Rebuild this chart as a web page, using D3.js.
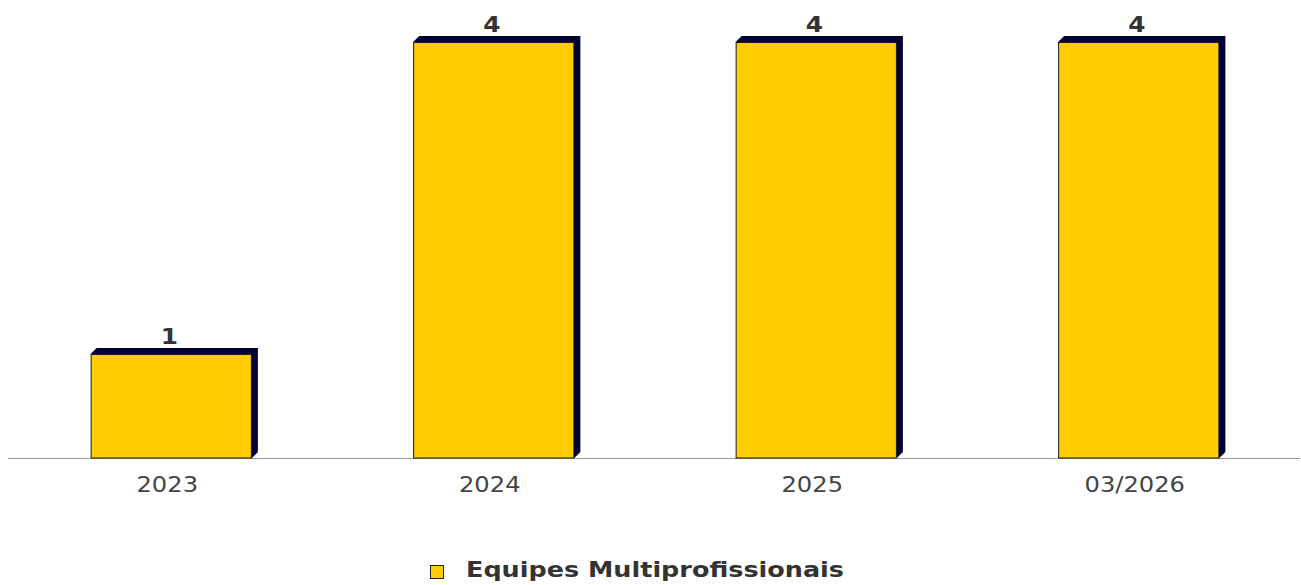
<!DOCTYPE html>
<html><head><meta charset="utf-8">
<script src="https://cdn.jsdelivr.net/npm/d3@7"></script>
<style>body{margin:0;background:#fff}svg{display:block}</style>
</head><body><svg id="c" width="1301" height="585"></svg>
<script>
const categories = ["2023", "2024", "2025", "03/2026"];
const values = [1, 4, 4, 4];
const seriesName = "Equipes Multiprofissionais";

const svg = d3.select("#c");
const base = 458, d = 6, sx = 1.18;
const x = d3.scaleBand().domain(categories).range([10, 1300]).paddingInner(0.5).paddingOuter(0.25);
const y = d3.scaleLinear().domain([0, 4]).range([base, 42]);

svg.append("line").attr("x1", 8).attr("x2", 1300).attr("y1", base + 0.5).attr("y2", base + 0.5)
  .attr("stroke", "#999").attr("stroke-width", 1);

function stext(parent, cx, cy, txt, size, weight, fill, anchor) {
  return parent.append("text").attr("transform", `translate(${cx},${cy}) scale(${sx},1)`)
    .attr("text-anchor", anchor || "middle").attr("font-family", "DejaVu Sans").attr("font-weight", weight)
    .attr("font-size", size).attr("fill", fill).text(txt);
}

const g = svg.append("g");
categories.forEach((c, i) => {
  const x0 = x(c), x1 = x(c) + x.bandwidth(), t = y(values[i]);
  g.append("polygon")
    .attr("points", [[x0, t], [x0 + d, t - d], [x1 + d, t - d], [x1 + d, base - d], [x1, base]].map(p => p.join(",")).join(" "))
    .attr("fill", "#000033");
  g.append("rect").attr("x", x0 + 0.5).attr("y", t + 0.5).attr("width", x.bandwidth() - 1).attr("height", base - t - 0.5)
    .attr("fill", "#FFCC00").attr("stroke", "#1a1a1a").attr("stroke-width", 1);
  const cx = x0 + x.bandwidth() / 2;
  stext(g, cx - 2, t - 10, values[i], 21, "bold", "#333");
  stext(g, cx - 4, base + 34, c, 20.5, "normal", "#444");
});

const lg = svg.append("g");
lg.append("rect").attr("x", 430.5).attr("y", 565.5).attr("width", 13).attr("height", 13)
  .attr("fill", "#FFCC00").attr("stroke", "#222").attr("stroke-width", 1);
lg.append("text").attr("x", 466).attr("y", 577).attr("font-family", "DejaVu Sans").attr("font-weight", "bold")
  .attr("font-size", 20.5).attr("fill", "#333").attr("textLength", 378).attr("lengthAdjust", "spacingAndGlyphs")
  .text(seriesName);
</script></body></html>
